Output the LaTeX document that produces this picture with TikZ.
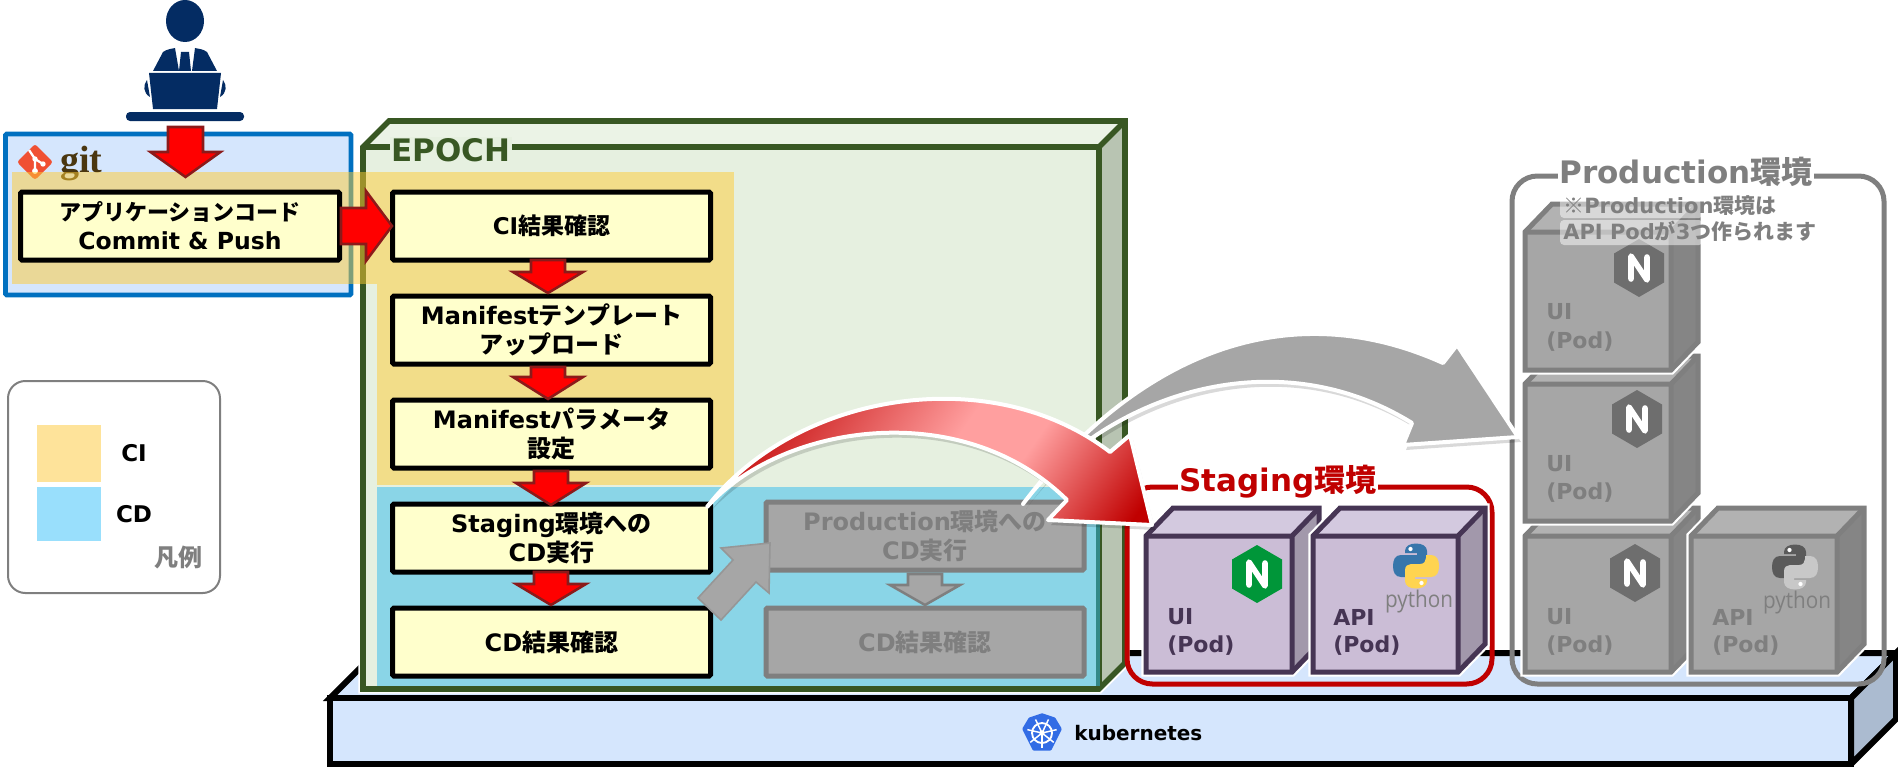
\documentclass[tikz,border=0pt]{standalone}
\usepackage{fontspec}
\setmainfont{DejaVu Sans}
\newfontfamily\jpf{Noto Sans CJK JP}
\newfontfamily\pyf{Open Sans}
\newfontfamily\gitf{Liberation Serif}
\newcommand\fpx[1]{\fontsize{\fpeval{#1*0.75}}{\fpeval{#1*0.92}}\selectfont}
\newcommand\jt[1]{{\jpf\bfseries #1}}
\definecolor{gitblue}{HTML}{0070C0}
\definecolor{paleblue}{HTML}{D5E6FD}
\definecolor{epgreen}{HTML}{385723}
\definecolor{epface}{HTML}{E6F0E0}
\definecolor{eptop}{HTML}{EBF3E6}
\definecolor{epside}{HTML}{B8C4B2}
\definecolor{ybfill}{HTML}{FFFFCC}
\definecolor{arrline}{HTML}{8B1A1A}
\definecolor{grfill}{HTML}{A6A6A6}
\definecolor{grline}{HTML}{7F7F7F}
\definecolor{navy}{HTML}{042C63}
\definecolor{purline}{HTML}{463554}
\definecolor{purfill}{HTML}{CBBDD6}
\definecolor{purtop}{HTML}{D3C9DF}
\definecolor{purside}{HTML}{A298AB}
\definecolor{grtop}{HTML}{B2B2B2}
\definecolor{grside}{HTML}{858585}
\definecolor{staging}{HTML}{C00000}
\definecolor{pinkmid}{HTML}{FF9F9F}
\definecolor{gitorange}{HTML}{F05033}
\definecolor{gitbrown}{HTML}{4B3710}
\definecolor{legci}{HTML}{FEE39A}
\definecolor{legcd}{HTML}{99DFFC}
\definecolor{slabside}{HTML}{ABBBD0}
\definecolor{k8sblue}{HTML}{326CE5}
\definecolor{ciband}{HTML}{FFCC33}
\definecolor{cdband}{HTML}{2FBBEE}
\definecolor{nginxgreen}{HTML}{009639}
\definecolor{nginxgray}{HTML}{6E6E6E}
\definecolor{pyblue}{HTML}{3776AB}
\definecolor{pyyellow}{HTML}{FFD450}
\definecolor{pydark}{HTML}{5A5A5A}
\definecolor{pylight}{HTML}{C8C8C8}
\definecolor{diaggray}{HTML}{969696}
\pgfdeclarehorizontalshading{redarc}{100bp}{color(0bp)=(staging);color(24bp)=(staging);color(53bp)=(pinkmid);color(63bp)=(pinkmid);color(82bp)=(staging);color(100bp)=(staging)}
\tikzset{
  x=0.75pt,y=-0.75pt,
  ybox/.style={draw=black,fill=ybfill,line width=3.75pt,minimum width=318*0.75pt,minimum height=68*0.75pt,inner sep=0pt,align=center,font=\fpx{24}\bfseries,text=black,rounded corners=1pt},
  gbox/.style={ybox,draw=grline,fill=grfill,text=grline},
  redarrow/.style={fill=red,draw=arrline,line width=1.9pt,line join=miter},
  grayarrow/.style={fill=grfill,draw=grline,line width=1.9pt},
  podlabel/.style={anchor=west,inner sep=0pt,font=\fpx{22}\bfseries},
  frametitle/.style={fill=white,inner sep=1pt,font=\fpx{31}\bfseries},
  notetext/.style={anchor=west,inner sep=0pt,text=grline,font=\fpx{21}\bfseries},
  pytext/.style={inner sep=0pt,font=\pyf\fpx{23},xscale=.9},
  legendtext/.style={inner sep=0pt,font=\fpx{23}\bfseries,text=black},
  bigarrowline/.style={draw=white,line width=3pt,line join=round},
}
% block arrow pointing down: centre x, half shaft, half head, y top, y head, y tip
\newcommand\dnarrow[7]{\draw[#7] (#1-#2,#4) -- (#1+#2,#4) -- (#1+#2,#5) -- (#1+#3,#5) -- (#1,#6) -- (#1-#3,#5) -- (#1-#2,#5) -- cycle;}
% cube: left, top, right, bottom (front face centre lines), line colour, front, top, side
\newcommand\cube[8]{%
  \draw[white,line width=7pt,line join=miter] (#1,#2) -- (#1+27,#2-28) -- (#3+27,#2-28) -- (#3+27,#4-28) -- (#3,#4) -- (#1,#4) -- cycle;
  \fill[#7] (#1,#2) -- (#1+27,#2-28) -- (#3+27,#2-28) -- (#3,#2) -- cycle;
  \fill[#8] (#3,#2) -- (#3+27,#2-28) -- (#3+27,#4-28) -- (#3,#4) -- cycle;
  \fill[#6] (#1,#2) rectangle (#3,#4);
  \draw[#5,line width=3.75pt,line join=miter] (#1,#2) -- (#1+27,#2-28) -- (#3+27,#2-28) -- (#3+27,#4-28) -- (#3,#4) -- (#1,#4) -- cycle;
  \draw[#5,line width=3.75pt,line join=miter] (#1,#2) -- (#3,#2) -- (#3,#4) (#3,#2) -- (#3+27,#2-28);
}
\newcommand\nginx[3]{%
  \begin{scope}[shift={(#1,#2)}]
    \fill[#3] (0,-29) -- (25,-14.5) -- (25,14.5) -- (0,29) -- (-25,14.5) -- (-25,-14.5) -- cycle;
    \draw[white,line width=4.2pt,line cap=round,line join=round] (-8,11) -- (-8,-12) -- (8,12) -- (8,-11);
  \end{scope}}
\newcommand\snake{(-11,-15) .. controls (-11,-20) and (-6,-22.5) .. (0,-22.5) .. controls (6,-22.5) and (11,-20) .. (11,-15) -- (11,-4) .. controls (11,0) and (8,2) .. (5,2) -- (-4,2) .. controls (-8,2) and (-10,5) .. (-10,8) -- (-10,11) -- (-15,11) .. controls (-21,11) and (-23,6) .. (-23,0) .. controls (-23,-6) and (-21,-11) .. (-15,-11) -- (1,-11) -- (1,-13) -- (-11,-13) -- cycle}
\newcommand\pylogo[4]{%
  \begin{scope}[shift={(#1,#2)}]
    \fill[#3] \snake;
    \fill[white] (-5.5,-17) circle (1.6pt);
    \begin{scope}[rotate=180]
      \fill[#4] \snake;
      \fill[white] (-5.5,-17) circle (1.6pt);
    \end{scope}
  \end{scope}}
\newcommand\redcurve{(707,507) .. controls (795,393) and (990,360) .. (1110,452) -- (1130,435) -- (1152,525) -- (1048,520) -- (1067,500) .. controls (960,395) and (780,425) .. (707,507) -- cycle}
\newcommand\graycurve{(1023,504) .. controls (1120,375) and (1270,285) .. (1443,363) -- (1457,345) -- (1518,437) -- (1403,445) -- (1412,423) .. controls (1270,335) and (1100,400) .. (1023,504) -- cycle}
\begin{document}
\begin{tikzpicture}
\useasboundingbox (0,0) rectangle (1898,767);
% person
\fill[navy] (185,21) ellipse [x radius=19,y radius=21];
\fill[navy] (153,71) -- (163,52) .. controls (167,49) and (171,49) .. (175,48) -- (179,71) -- cycle;
\fill[navy] (217,71) -- (207,52) .. controls (203,49) and (199,49) .. (195,48) -- (192,71) -- cycle;
\fill[navy] (181,52) -- (189,52) -- (191,71) -- (179,71) -- cycle;
\fill[navy] (149,73) -- (221,73) -- (217,109) -- (153,109) -- cycle;
\fill[navy] (147,80) .. controls (143,85) and (143,93) .. (150,97) -- cycle;
\fill[navy] (223,80) .. controls (227,85) and (227,93) .. (220,97) -- cycle;
\fill[navy,rounded corners=3pt] (126,112) rectangle (244,121);
% git panel
\draw[gitblue,fill=paleblue,line width=3.6pt,rounded corners=1pt] (5.5,134) rectangle (351,295);
\begin{scope}[shift={(35,162)}]
  \fill[rounded corners=2pt,gitorange] (0,-18) -- (18,0) -- (0,18) -- (-18,0) -- cycle;
  \draw[white,line width=1.7pt] (-6,-12) -- (0,-3) -- (0,9) (0,-3) -- (8,2);
  \fill[white] (0,-3) circle (2pt) (8,2) circle (2pt) (0,9) circle (2.2pt);
\end{scope}
\node (gitname) [anchor=base west,inner sep=0pt,text=gitbrown,font=\gitf\bfseries\fpx{38}] at (60,172) {git};
% legend
\draw[grline,line width=1.5pt,rounded corners=13pt] (8,381) rectangle (220,593);
\fill[legci] (37,425) rectangle (101,482);
\fill[legcd] (37,487) rectangle (101,541);
\node (legci) [legendtext] at (134,453) {CI};
\node (legcd) [legendtext] at (134,514) {CD};
\node (legend) [inner sep=0pt,text=grline,font=\fpx{24}] at (178,557) {\jt{凡例}};
% kubernetes slab
\draw[black,fill=paleblue,line width=4.5pt] (330,698) -- (375,653) -- (1896,653) -- (1851,698) -- cycle;
\draw[black,fill=slabside,line width=4.5pt] (1851,698) -- (1896,653) -- (1896,719) -- (1851,764) -- cycle;
\draw[black,fill=paleblue,line width=4.5pt] (330,698) rectangle (1851,764);
\fill[k8sblue,draw=k8sblue,line width=2.5pt,line join=round] (1042,715) -- (1054,719) -- (1060,729) -- (1050,749) -- (1034,749) -- (1024,729) -- (1030,719) -- cycle;
\begin{scope}[shift={(1042,733)}]
  \draw[white,line width=1.4pt] (0,0) circle (7.5pt);
  \foreach \a in {90,141.4,192.9,244.3,295.7,347.1,38.6} {\draw[white,line width=1.1pt] (0,0) -- (\a:15);}
  \fill[white] (0,0) circle (2pt);
\end{scope}
\node (k8s) [anchor=west,inner sep=0pt,font=\fpx{20}\bfseries] at (1074,733) {kubernetes};
% EPOCH box
\draw[white,line width=7pt,line join=miter] (363,147) -- (389,121) -- (1125,121) -- (1125,663) -- (1099,689) -- (363,689) -- cycle;
\fill[eptop] (363,147) -- (389,121) -- (1125,121) -- (1099,147) -- cycle;
\fill[epside] (1099,147) -- (1125,121) -- (1125,663) -- (1099,689) -- cycle;
\fill[epface] (363,147) rectangle (1099,689);
\draw[epgreen,line width=4.2pt,line join=miter] (363,147) -- (389,121) -- (1125,121) -- (1125,663) -- (1099,689) -- (363,689) -- cycle;
\draw[epgreen,line width=4.2pt,line join=miter] (363,147) -- (1099,147) -- (1099,689) (1099,147) -- (1125,121);
\node (epoch) [anchor=west,fill=epface,inner sep=1pt,text=epgreen,font=\fpx{31}\bfseries] at (390,150) {EPOCH};
% CI and CD bands
\fill[ciband,opacity=.5] (12,172) rectangle (734,284);
\fill[ciband,opacity=.5] (377,284) rectangle (734,485);
\fill[cdband,opacity=.5] (377,487) rectangle (1100,686);
% process boxes
\node (app) [ybox,minimum width=319*0.75pt,font=\fpx{23.5}\bfseries] at (180,226) {{\fpx{22}\jt{アプリケーションコード}}\\Commit \& Push};
\node (ci) [ybox,font=\fpx{23}\bfseries] at (551.5,226) {CI\jt{結果確認}};
\node (tmpl) [ybox] at (551.5,330) {Manifest\jt{テンプレート}\\\jt{アップロード}};
\node (param) [ybox] at (551.5,434) {Manifest\jt{パラメータ}\\\jt{設定}};
\node (stg) [ybox] at (551.5,538) {Staging\jt{環境への}\\CD\jt{実行}};
\node (cdr) [ybox] at (551.5,642) {CD\jt{結果確認}};
\node (prd) [gbox] at (925,536) {Production\jt{環境への}\\CD\jt{実行}};
\node (cdr2) [gbox] at (925,642) {CD\jt{結果確認}};
% block arrows
\dnarrow{185.5}{17.5}{35}{127}{152}{177}{redarrow}
\draw[redarrow] (341,208) -- (366,208) -- (366,191) -- (392,226) -- (366,261) -- (366,244) -- (341,244) -- cycle;
\dnarrow{548}{17}{35}{260}{272}{293}{redarrow}
\dnarrow{548}{17}{35}{367}{377}{399}{redarrow}
\dnarrow{551}{17}{35}{471}{483}{505}{redarrow}
\dnarrow{551}{17}{35}{572}{584}{605}{redarrow}
\dnarrow{925}{17}{35}{574}{585}{605}{grayarrow}
\draw[fill=grfill,draw=diaggray,line width=1.2pt] (698,598) -- (733,560) -- (721,548) -- (770,543) -- (769,593) -- (756,582) -- (721,620) -- cycle;
% staging
\draw[staging,line width=3.75pt,rounded corners=19pt] (1127,487) rectangle (1492,684);
\node (stgtitle) [frametitle,text=staging] at (1278,482) {Staging\jt{環境}};
\cube{1146}{536}{1292}{672}{purline}{purfill}{purtop}{purside}
\cube{1313}{536}{1458}{672}{purline}{purfill}{purtop}{purside}
\nginx{1257}{574}{nginxgreen}
\node (ui1) [podlabel,text=purline] at (1167,617) {UI};
\node (ui1b) [podlabel,text=purline] at (1167,646) {(Pod)};
\pylogo{1416}{566}{pyblue}{pyyellow}
\node (py1) [pytext,text=grline] at (1419,602) {python};
\node (api1) [podlabel,text=purline] at (1333,617) {API};
\node (api1b) [podlabel,text=purline] at (1333,646) {(Pod)};
% production
\draw[grline,line width=3.75pt,rounded corners=19pt] (1512,176) rectangle (1884,684);
\node (prodtitle) [frametitle,text=grline] at (1686,172) {Production\jt{環境}};
\cube{1525}{536}{1671}{672}{grline}{grfill}{grtop}{grside}
\cube{1691}{536}{1837}{672}{grline}{grfill}{grtop}{grside}
\nginx{1635}{573}{nginxgray}
\node (ui4) [podlabel,text=grline] at (1546,617) {UI};
\node (ui4b) [podlabel,text=grline] at (1546,646) {(Pod)};
\pylogo{1795}{567}{pydark}{pylight}
\node (py2) [pytext,text=grline] at (1797,603) {python};
\node (api4) [podlabel,text=grline] at (1712,617) {API};
\node (api4b) [podlabel,text=grline] at (1712,646) {(Pod)};
\cube{1525}{384}{1671}{521}{grline}{grfill}{grtop}{grside}
\nginx{1637}{419}{nginxgray}
\node (ui3) [podlabel,text=grline] at (1546,464) {UI};
\node (ui3b) [podlabel,text=grline] at (1546,493) {(Pod)};
\cube{1525}{232}{1671}{370}{grline}{grfill}{grtop}{grside}
\nginx{1639}{268}{nginxgray}
\node (ui2) [podlabel,text=grline] at (1546,312) {UI};
\node (ui2b) [podlabel,text=grline] at (1546,342) {(Pod)};
\fill[white,opacity=.5,rounded corners=3pt] (1560,193) rectangle (1703,218);
\fill[white,opacity=.5,rounded corners=3pt] (1560,220) rectangle (1703,245);
\node (note1) [notetext] at (1563,206) {\jt{※}Production\jt{環境は}};
\node (note2) [notetext] at (1563,231) {API Pod\jt{が}3\jt{つ作られます}};
% big curved arrows
\begin{scope}[shift={(3,5)}]
  \fill[black,opacity=.15] \graycurve;
\end{scope}
\path[fill=grfill,bigarrowline] \graycurve;
\begin{scope}[shift={(3,5)}]
  \fill[black,opacity=.15] \redcurve;
\end{scope}
\shade[shading=redarc,shading angle=-35,bigarrowline] \redcurve;
\end{tikzpicture}
\end{document}
